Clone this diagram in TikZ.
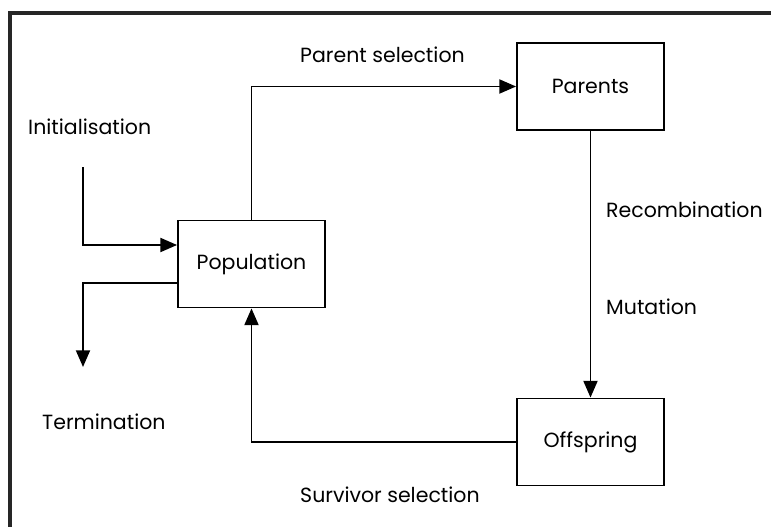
\documentclass[tikz,border=0pt]{standalone}
\usepackage{fontspec}
\setmainfont{Poppins}
\usepackage{tikz}
\usetikzlibrary{positioning,arrows.meta,calc}
\tikzset{
  gabox/.style={draw, line width=1.6pt, minimum width=4.41cm, minimum height=2.61cm,
    inner sep=0pt, font=\fontsize{17.5}{20}\selectfont},
  gaflow/.style={line width=1.6pt, -{Triangle[length=5mm, width=4.2mm]}},
  galabel/.style={anchor=west, inner sep=0pt, font=\fontsize{17.5}{20}\selectfont},
}

\begin{document}
\begin{tikzpicture}[x=0.03cm, y=-0.03cm]
  \useasboundingbox (0,0) rectangle (771,527);
  % frame
  \draw[line width=2.6pt, black!85] (10,527) -- (10,13) -- (771,13);
  % boxes
  \node[gabox] (pop) at (251.5,264) {Population};
  \node[gabox] (par) at (590.5,86.5) {Parents};
  \node[gabox] (off) at (590.5,442) {Offspring};
  % free ends
  \coordinate (initstart) at (83,167);
  \coordinate (termend) at (83,367);
  % connectors
  \draw[gaflow] (initstart) |- ($(pop.west)+(0,-19)$);
  \draw[gaflow] (pop.north) |- (par.west);
  \draw[gaflow] (par) -- (off);
  \draw[gaflow] (off.west) -| (pop.south);
  \draw[gaflow] ($(pop.west)+(0,19)$) -| (termend);
  % labels
  \node[galabel] (initlbl) at (28,127) {Initialisation};
  \node[galabel] (psel) at (300,55) {Parent selection};
  \node[galabel] (recomb) at (606,210) {Recombination};
  \node[galabel] (mut) at (606,307) {Mutation};
  \node[galabel] (term) at (42,422) {Termination};
  \node[galabel] (ssel) at (300,495) {Survivor selection};
\end{tikzpicture}
\end{document}
